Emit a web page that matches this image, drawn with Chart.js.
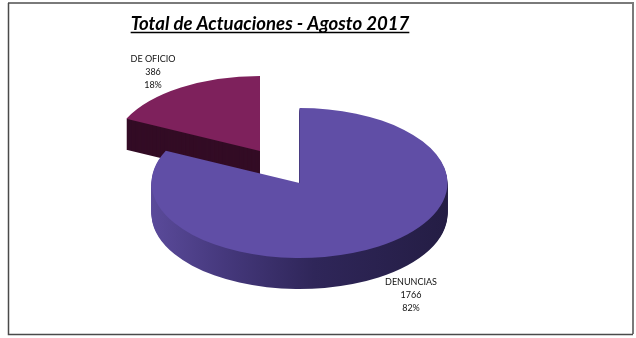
<!DOCTYPE html>
<html>
<head>
<meta charset="utf-8">
<style>
  html, body { margin: 0; padding: 0; background: #fff; }
  canvas { display: block; }
</style>
<script src="https://cdn.jsdelivr.net/npm/chart.js@4"></script>
</head>
<body>
<canvas id="torta" width="636" height="338"></canvas>
<script>
// Total de Actuaciones - Agosto 2017
const categorias = ['DENUNCIAS', 'DE OFICIO'];
const actuaciones = [1766, 386];
const porcentajes = [82, 18];
const colores = ['#604ea6', '#7e215c'];

// el 3D de la torta: centro de la elipse, aplastado, profundidad y desplazamiento
const centro = { x: 299.5, y: 183 };
const aplastado = 0.507;
const profundidad = 31;
const separacion = [{ x: 0, y: 0 }, { x: -39.5, y: -32 }];
const posEtiquetas = [{ x: 411, y: 282 }, { x: 153, y: 59 }];

function dibujarPorcion(ctx, arc, dx, dy, color) {
  const guardadas = arc.options;
  ctx.save();
  ctx.translate(centro.x + dx, centro.y + dy);
  ctx.scale(1, aplastado);
  ctx.translate(-arc.x, -arc.y);
  arc.options = Object.assign({}, guardadas, { backgroundColor: color });
  arc.draw(ctx);
  arc.options = guardadas;
  ctx.restore();
}

const torta3d = {
  id: 'torta3d',
  beforeDraw(chart) {
    const ctx = chart.ctx;
    ctx.save();
    // marco: arriba y derecha mas claros
    ctx.lineWidth = 2;
    ctx.strokeStyle = '#7a7a7a';
    ctx.beginPath();
    ctx.moveTo(8, 3);
    ctx.lineTo(633, 3);
    ctx.lineTo(633, 334);
    ctx.stroke();
    ctx.lineWidth = 1.5;
    ctx.strokeStyle = '#4a4a4a';
    ctx.beginPath();
    ctx.moveTo(8.5, 3);
    ctx.lineTo(8.5, 334.5);
    ctx.lineTo(633, 334.5);
    ctx.stroke();
    ctx.restore();
  },
  beforeDatasetDraw(chart, args) {
    const ctx = chart.ctx;
    const arcs = args.meta.data;
    const r = arcs[0].outerRadius;

    // pared de cada porcion, de abajo hacia arriba
    const paredes = [null, '#330c25'];
    const g = ctx.createLinearGradient(arcs[0].x - r, 0, arcs[0].x + r, 0);
    g.addColorStop(0, '#5a4a9a');
    g.addColorStop(0.25, '#45387c');
    g.addColorStop(0.55, '#2f2659');
    g.addColorStop(1, '#241d44');
    paredes[0] = g;

    // primero la porcion separada, la grande queda delante
    [1, 0].forEach(i => {
      const s = separacion[i];
      for (let d = profundidad; d > 0; d--) {
        dibujarPorcion(ctx, arcs[i], s.x, s.y + d, paredes[i]);
      }
      dibujarPorcion(ctx, arcs[i], s.x, s.y, colores[i]);
    });
    return false;
  },
  afterDraw(chart) {
    const ctx = chart.ctx;
    ctx.save();
    // etiquetas
    ctx.fillStyle = '#111';
    ctx.font = '9px Lato';
    ctx.textAlign = 'center';
    ctx.textBaseline = 'middle';
    categorias.forEach((c, i) => {
      const p = posEtiquetas[i];
      ctx.fillText(c, p.x, p.y);
      ctx.fillText(String(actuaciones[i]), p.x, p.y + 13);
      ctx.fillText(porcentajes[i] + '%', p.x, p.y + 26);
    });
    // subrayado del titulo
    const t = chart.titleBlock;
    const opt = chart.options.plugins.title;
    ctx.font = 'italic bold ' + opt.font.size + 'px ' + opt.font.family;
    const w = ctx.measureText(opt.text).width;
    const mid = t.left + t.width / 2;
    ctx.strokeStyle = '#000';
    ctx.lineWidth = 1.5;
    ctx.beginPath();
    ctx.moveTo(mid - w / 2, 32.5);
    ctx.lineTo(mid + w / 2, 32.5);
    ctx.stroke();
    ctx.restore();
  }
};

new Chart(document.getElementById('torta'), {
  type: 'pie',
  data: {
    labels: categorias,
    datasets: [{
      data: actuaciones,
      backgroundColor: colores,
      borderWidth: 0
    }]
  },
  options: {
    responsive: false,
    animation: false,
    radius: 148,
    layout: { padding: { right: 96 } },
    plugins: {
      legend: { display: false },
      tooltip: { enabled: false },
      title: {
        display: true,
        fullSize: false,
        text: 'Total de Actuaciones - Agosto 2017',
        color: '#000',
        font: { family: 'Lato', size: 18.6, weight: 'bold', style: 'italic' },
        padding: { top: 13, bottom: 6 }
      }
    }
  },
  plugins: [torta3d]
});
</script>
</body>
</html>
